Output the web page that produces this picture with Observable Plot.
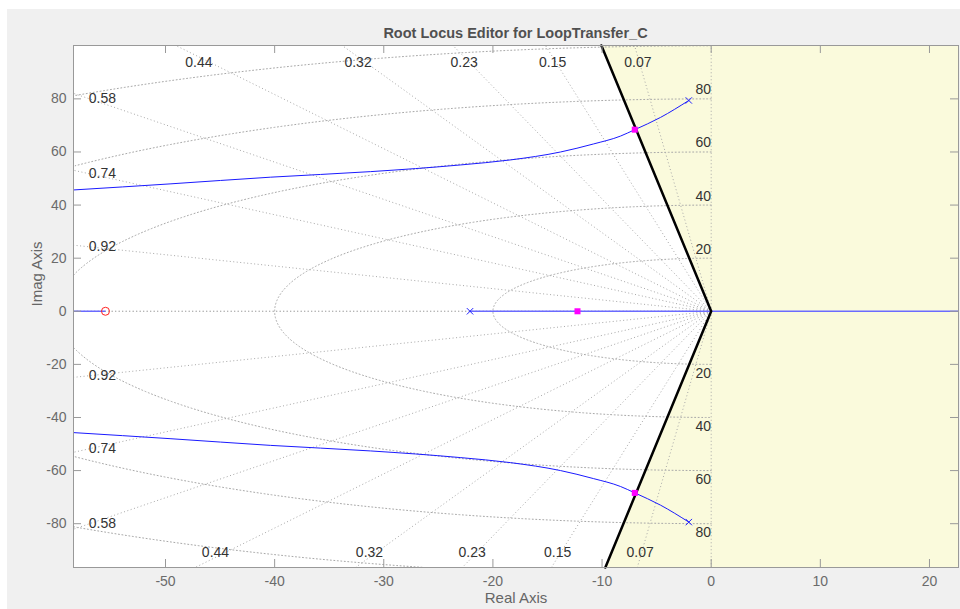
<!DOCTYPE html>
<html><head><meta charset="utf-8">
<script src="https://cdn.jsdelivr.net/npm/d3@7"></script>
<script src="https://cdn.jsdelivr.net/npm/@observablehq/plot@0.6"></script>
<style>
html,body{margin:0;padding:0;background:#fff;}
#fig{position:absolute;left:7px;top:9px;width:953px;height:600px;background:#f0f0f0;font-family:"Liberation Sans",Arial,sans-serif;}
#title{margin-left:66px;width:885px;height:18px;padding-top:16px;line-height:16px;text-align:center;font-size:14.5px;font-weight:bold;color:#505050;}
#chart svg{display:block;}
</style></head><body>
<div id="fig"><div id="title">Root Locus Editor for LoopTransfer_C</div><div id="chart"></div></div>
<script>
// ---- data ----
const xDomain = [-58.43, 22.66];
const yDomain = [-96.5, 100.1];
const xTicks = [-50, -40, -30, -20, -10, 0, 10, 20];
const yTicks = [-80, -60, -40, -20, 0, 20, 40, 60, 80];
const zetaTop = [0.44, 0.32, 0.23, 0.15, 0.07];
const zetaLeft = [0.92, 0.74, 0.58];
const wnValues = [20, 40, 60, 80, 100];
const wnLabels = [20, 40, 60, 80];
const zetaConstraint = 0.1;
// upper complex branch (lower is its mirror)
const branchX = [-58.4, -49.5, -40.4, -31.2, -23.0, -18.4, -13.8, -10.8, -8.3, -7.0, -4.65, -2.05];
const branchY = [45.7, 48.0, 50.5, 52.6, 55.1, 57.0, 60.0, 63.0, 66.0, 68.4, 73.0, 79.4];
const poleX = [-22.1, -2.05, -2.05];
const poleY = [0, 79.4, -79.4];
const zeroX = [-55.5];
const zeroY = [0];
const clPoleX = [-12.25, -7.0, -7.0];
const clPoleY = [0, 68.4, -68.4];

// ---- layout ----
const W = 953, H = 566, mL = 66, mR = 2, mT = 2, mB = 42;
const fw = W - mL - mR, fh = H - mT - mB;
const gridColor = "#a8a8a8";
const axisColor = "#999999";
const labelColor = "#333333";
const font = "'Liberation Sans', Arial, sans-serif";

// constraint (damping 0.1) boundary
const kC = zetaConstraint / Math.sqrt(1 - zetaConstraint * zetaConstraint);
const shadeY = [yDomain[0], 0, yDomain[1]];

// grid circles (left half-plane, clipped to frame)
const circlePts = [];
wnValues.forEach(r => {
  let seg = 0, inside = false;
  for (let a = 90; a <= 270.001; a += 0.25) {
    const t = a * Math.PI / 180;
    const x = r * Math.cos(t), y = r * Math.sin(t);
    const ok = x >= xDomain[0] && y <= yDomain[1] && y >= yDomain[0];
    if (ok) { if (!inside) seg++; circlePts.push({x, y, z: r + "-" + seg}); }
    inside = ok;
  }
});

// grid damping rays
const gridZetas = [0, ...zetaTop, ...zetaLeft, 1];
const rays = [];
gridZetas.forEach(z => {
  const s = Math.sqrt(1 - z * z);
  [1, -1].forEach(sg => {
    const t = Math.min(z > 0 ? -xDomain[0] / z : Infinity, s > 0 ? (sg > 0 ? yDomain[1] : -yDomain[0]) / s : Infinity);
    rays.push({x2: -z * t, y2: sg * s * t});
  });
});

// damping labels
const topY = yDomain[1] - 4.3, botY = yDomain[0] + 3.8;
const topLabels = zetaTop.map(z => ({z, x: -topY * z / Math.sqrt(1 - z * z), y: topY}));
const botLabels = zetaTop.map(z => ({z, x: botY * z / Math.sqrt(1 - z * z), y: botY}));
const leftX = xDomain[0] + 1.4;
const leftLabels = [];
zetaLeft.forEach(z => {
  const yy = -leftX * Math.sqrt(1 - z * z) / z;
  leftLabels.push({z, x: leftX, y: yy});
  leftLabels.push({z, x: leftX, y: -yy});
});

const upper = branchX.map((x, i) => ({x, y: branchY[i]}));
const lower = branchX.map((x, i) => ({x, y: -branchY[i]}));
const realSegs = [{x1: xDomain[0], x2: zeroX[0]}, {x1: poleX[0], x2: xDomain[1]}];
const poles = poleX.map((x, i) => ({x, y: poleY[i]}));
const zeros = zeroX.map((x, i) => ({x, y: zeroY[i]}));
const clPoles = clPoleX.map((x, i) => ({x, y: clPoleY[i]}));

const chart = Plot.plot({
  width: W, height: H,
  marginLeft: mL, marginRight: mR, marginTop: mT, marginBottom: mB,
  style: {background: "transparent", fontFamily: font, fontSize: "14px", color: "#6b6b6b"},
  x: {domain: xDomain, ticks: xTicks, tickSize: 0, tickPadding: 9, tickFormat: d => String(d), label: null},
  y: {domain: yDomain, ticks: yTicks, tickSize: 0, tickPadding: 7, tickFormat: d => String(d), label: null},
  marks: [
    Plot.frame({fill: "white", stroke: "none"}),
    Plot.areaX(shadeY, {y: d => d, x1: d => -Math.abs(d) * kC, x2: () => xDomain[1], fill: "#fafadc"}),
    Plot.line(circlePts, {x: "x", y: "y", z: "z", stroke: gridColor, strokeWidth: 1, strokeDasharray: "1,2.5"}),
    Plot.link(rays, {x1: () => 0, y1: () => 0, x2: "x2", y2: "y2", stroke: gridColor, strokeWidth: 1, strokeDasharray: "1,2.5"}),
    Plot.link(realSegs, {x1: "x1", x2: "x2", y1: () => 0, y2: () => 0, stroke: "#6a6aff", strokeWidth: 1.5}),
    Plot.line(upper, {x: "x", y: "y", curve: "monotone-x", stroke: "#1a1aff", strokeWidth: 1}),
    Plot.line(lower, {x: "x", y: "y", curve: "monotone-x", stroke: "#1a1aff", strokeWidth: 1}),
    Plot.line(shadeY, {x: d => -Math.abs(d) * kC, y: d => d, stroke: "black", strokeWidth: 2.5}),
    Plot.dot(poles, {x: "x", y: "y", symbol: "times", r: 3, stroke: "#2020ff", strokeWidth: 1}),
    Plot.dot(zeros, {x: "x", y: "y", symbol: "circle", r: 4, stroke: "#ff2020", fill: "none", strokeWidth: 1}),
    Plot.dot(clPoles, {x: "x", y: "y", symbol: "square", r: 3.4, fill: "#ff00ff", stroke: "none"}),
    Plot.text(topLabels, {x: "x", y: "y", text: d => String(d.z), lineAnchor: "top", textAnchor: "middle", fill: labelColor, fontSize: 14}),
    Plot.text(botLabels, {x: "x", y: "y", text: d => String(d.z), lineAnchor: "bottom", textAnchor: "middle", fill: labelColor, fontSize: 14}),
    Plot.text(leftLabels, {x: "x", y: "y", text: d => String(d.z), textAnchor: "start", fill: labelColor, fontSize: 14}),
    Plot.text(wnLabels, {x: () => 0, y: d => d, text: d => String(d), dx: -8, dy: -9, fill: labelColor, fontSize: 14}),
    Plot.text(wnLabels, {x: () => 0, y: d => -d, text: d => String(d), dx: -8, dy: 9, fill: labelColor, fontSize: 14}),
    Plot.ruleX(xTicks, {x: d => d, insetTop: fh - 8, stroke: axisColor}),
    Plot.ruleX(xTicks, {x: d => d, insetBottom: fh - 8, stroke: axisColor}),
    Plot.ruleY(yTicks, {y: d => d, insetRight: fw - 8, stroke: axisColor}),
    Plot.ruleY(yTicks, {y: d => d, insetLeft: fw - 8, stroke: axisColor}),
    Plot.frame({stroke: axisColor}),
    Plot.text(["Real Axis"], {frameAnchor: "bottom", dy: 35, text: d => d, fill: "#666666", fontSize: 15}),
    Plot.text(["Imag Axis"], {frameAnchor: "left", dx: -36, rotate: -90, text: d => d, fill: "#666666", fontSize: 15})
  ]
});
document.getElementById("chart").appendChild(chart);
</script>
</body></html>
